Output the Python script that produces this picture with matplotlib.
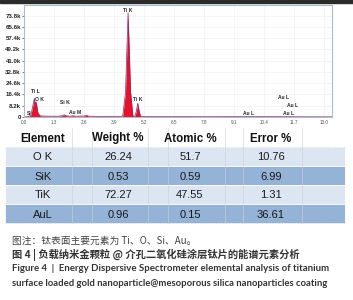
import matplotlib.pyplot as plt
from matplotlib.ticker import FuncFormatter

plt.rcParams['font.family'] = ['Liberation Sans', 'DejaVu Sans']

# spectrum points (keV, kcounts)
energy = [0.0, 0.2, 0.3, 0.38, 0.45, 0.49, 0.53, 0.6, 0.7, 1.0, 1.5, 1.65, 1.74,
          1.85, 2.0, 2.12, 2.25, 2.6, 2.7, 2.8, 3.2, 4.2, 4.28, 4.4, 4.51, 4.62,
          4.72, 4.8, 4.86, 4.93, 5.0, 5.06, 6.0, 8.0, 9.71, 11.44, 13.35]
counts = [0, 0.3, 1.5, 8, 13.5, 9, 11, 3, 0.8, 0.6, 0.6, 0.9, 1.6,
          0.8, 0.6, 0.9, 0.6, 0.7, 1.3, 0.6, 0.5, 0.5, 0.8, 18, 76, 18,
          0.8, 0.6, 3.5, 10, 3.5, 0.4, 0.3, 0.2, 0.3, 0.2, 0.1]

peak_names = ['Si', 'Ti L', 'O K', 'Si K', 'Au M', 'Ti K', 'Ti K',
              'Au L', 'Au L', 'Au L', 'Au L']
peak_x = [0.22, 0.48, 0.69, 1.78, 2.21, 4.51, 4.94, 9.75, 11.27, 11.64, 11.48]
peak_y = [2.9, 18.9, 13.0, 10.2, 3.6, 77.6, 13.0, 2.9, 14.5, 8.7, 2.9]

x_ticks = [0.0, 1.3, 2.6, 3.9, 5.2, 6.5, 7.8, 9.1, 10.4, 11.7, 13.0]
y_ticks = [0, 8.2, 16.4, 24.6, 32.8, 41.0, 49.2, 57.4, 65.6, 73.8]

# table
columns = ['Element', 'Weight %', 'Atomic %', 'Error %']
elements = ['O K', 'SiK', 'TiK', 'AuL']
weight = ['26.24', '0.53', '72.27', '0.96']
atomic = ['51.7', '0.59', '47.55', '0.15']
error = ['10.76', '6.99', '1.31', '36.61']

captions = ['图注：钛表面主要元素为 Ti、O、Si、Au。',
            '图 4 | 负载纳米金颗粒 @ 介孔二氧化硅涂层钛片的能谱元素分析',
            'Figure 4  |  Energy Dispersive Spectrometer elemental analysis of titanium',
            'surface loaded gold nanoparticle@mesoporous silica nanoparticles coating']

fig = plt.figure(figsize=(3.53, 3.0), dpi=100)

# background layer in pixel coordinates
bg = fig.add_axes([0, 0, 1, 1])
bg.set_xlim(0, 353)
bg.set_ylim(300, 0)
bg.axis('off')
bg.axhspan(0, 2.5, color='#2b2b2b')

# table rows
row_h = 19
row_top = 128
row_centers = [row_top + row_h * (i + 0.5) for i in range(5)]
row_colors = ['white', '#dce6f2', '#95b3d7', '#dce6f2', '#95b3d7']
bg.barh(row_centers, 340, left=5, height=row_h, color=row_colors, edgecolor='white', linewidth=0.6)
for xv in [72, 92, 148, 168, 225, 243, 302]:
    bg.plot([xv, xv], [row_top, row_top + 5 * row_h], color='#c8d2dc', lw=0.4)
bg.plot([5, 345], [row_top + row_h, row_top + row_h], color='#b0b8c0', lw=0.4, ls=':')
bg.plot([5, 345], [row_top + 5 * row_h, row_top + 5 * row_h], color='#b0b8c0', lw=0.4, ls=':')

col_x = [43, 118, 190, 271]
for cx, name in zip(col_x, columns):
    bg.text(cx, row_centers[0] + 4, name, ha='center', va='baseline', fontsize=8.3,
            fontweight='bold', color='#111111')
for i, vals in enumerate(zip(elements, weight, atomic, error)):
    for cx, v in zip(col_x, vals):
        bg.text(cx, row_centers[i + 1] + 4, v, ha='center', va='baseline', fontsize=8,
                color='#1a1a1a')

# captions
bg.text(12, 241, captions[0], fontsize=7.0, color='#444444', va='center',
        family=['Noto Sans CJK SC', 'DejaVu Sans'])
bg.text(12, 254.5, captions[1], fontsize=7.4, color='#333333', va='center',
        fontweight='bold', family=['Noto Sans CJK SC', 'DejaVu Sans'])
bg.text(12, 268.5, captions[2], fontsize=6.9, color='#333333', va='center',
        fontweight='bold', family=['Lato', 'DejaVu Sans'])
bg.text(12, 283, captions[3], fontsize=6.85, color='#333333', va='center',
        fontweight='bold', family=['Lato', 'DejaVu Sans'])

# spectrum
ax = fig.add_axes([24 / 353, 1 - 117 / 300, (332 - 24) / 353, (117 - 5) / 300])
ax.fill_between(energy, counts, color='#e8102a', lw=0)
ax.plot(energy, counts, color='#8a2a6a', lw=0.5)
ax.set_xlim(0, 13.35)
ax.set_ylim(0, 81.5)
ax.set_xticks(x_ticks)
ax.set_yticks(y_ticks)
ax.xaxis.set_major_formatter(FuncFormatter(lambda v, p: f'{v:.1f}'))
ax.yaxis.set_major_formatter(FuncFormatter(lambda v, p: '0' if v == 0 else f'{v:.1f}k'))
ax.tick_params(axis='x', labelsize=3.3, length=0, pad=2, labelcolor='#555555')
ax.tick_params(axis='y', labelsize=4.4, length=1.5, width=0.5, pad=0.8,
               labelcolor='#222222', color='#444444')
for lab in ax.get_yticklabels():
    lab.set_fontweight('bold')
ax.grid(True, color='#eef1f5', lw=0.5)
ax.set_axisbelow(True)
for s in ax.spines.values():
    s.set_color('#a9bcd0')
    s.set_linewidth(0.8)
for name, px, py in zip(peak_names, peak_x, peak_y):
    ax.text(px, py, name, fontsize=3.6, ha='center', va='center', color='#222222',
            fontweight='bold')

fig.savefig('out.png', dpi=100)
